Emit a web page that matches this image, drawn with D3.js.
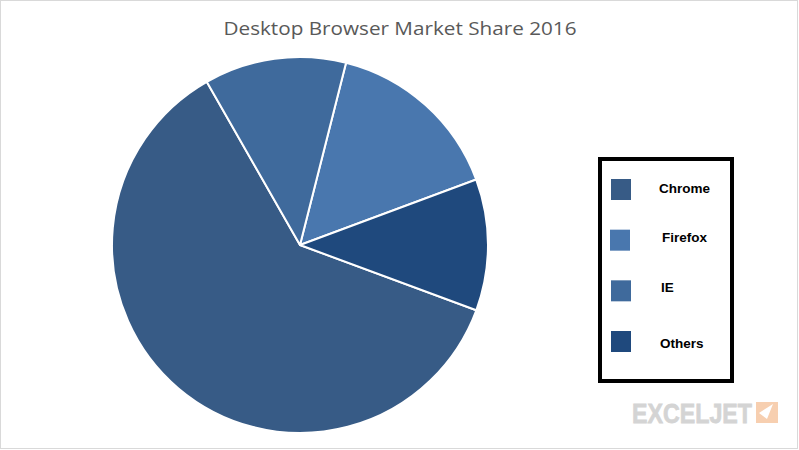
<!DOCTYPE html>
<html>
<head>
<meta charset="utf-8">
<script src="https://cdn.jsdelivr.net/npm/d3@7"></script>
<style>
  html, body { margin: 0; padding: 0; background: #fff; }
  svg { display: block; }
</style>
</head>
<body>
<svg id="chart" width="799" height="450"></svg>
<script>
// Data (legend order)
const categories = ["Chrome", "Firefox", "IE", "Others"];
const shares = [61.1, 15.4, 12.2, 11.3];
const colors = ["#375b86", "#4977ae", "#3f6a9c", "#1f497d"];
// order slices are drawn clockwise in the reference
const drawOrder = ["Chrome", "IE", "Firefox", "Others"];
const title = "Desktop Browser Market Share 2016";

const svg = d3.select("#chart");
const W = 799, H = 450;

// outer border
svg.append("rect")
  .attr("x", 0.5).attr("y", 0.5)
  .attr("width", W - 2).attr("height", H - 2)
  .attr("fill", "#fff").attr("stroke", "#d9d9d9").attr("stroke-width", 1);

// title
svg.append("text")
  .attr("x", 400).attr("y", 35)
  .attr("text-anchor", "middle")
  .attr("font-family", "'Open Sans', sans-serif")
  .attr("font-size", 18)
  .attr("fill", "#595959")
  .attr("textLength", 353)
  .attr("lengthAdjust", "spacingAndGlyphs")
  .text(title);

// pie
const data = categories.map((c, i) => ({ cat: c, value: shares[i], color: colors[i] }));
const cx = 300, cy = 245, r = 188;
const startDeg = 110.3;
const pie = d3.pie()
  .value(d => d.value)
  .sort((a, b) => drawOrder.indexOf(a.cat) - drawOrder.indexOf(b.cat))
  .startAngle(startDeg * Math.PI / 180)
  .endAngle((startDeg + 360) * Math.PI / 180);
const arc = d3.arc().innerRadius(0).outerRadius(r);

svg.append("g")
  .attr("transform", `translate(${cx},${cy})`)
  .selectAll("path")
  .data(pie(data))
  .join("path")
  .attr("d", arc)
  .attr("fill", d => d.data.color)
  .attr("stroke", "#fff")
  .attr("stroke-width", 2)
  .attr("stroke-linejoin", "round");

// legend
svg.append("rect")
  .attr("x", 600).attr("y", 159)
  .attr("width", 132).attr("height", 222)
  .attr("fill", "#fff").attr("stroke", "#000").attr("stroke-width", 4);

const legendY = d3.scalePoint().domain(categories).range([189.5, 341.5]);
const swatchX = [611, 610, 611, 611];
const labelX = [659, 662, 661, 660];
const labelY = [193, 242, 292, 348];
const lg = svg.append("g").selectAll("g").data(data).join("g");
lg.append("rect")
  .attr("x", (d, i) => swatchX[i]).attr("y", d => legendY(d.cat) - 10.5)
  .attr("width", 20).attr("height", 21)
  .attr("fill", d => d.color);
lg.append("text")
  .attr("x", (d, i) => labelX[i])
  .attr("y", (d, i) => labelY[i])
  .attr("font-family", "'Liberation Sans', Arial, sans-serif")
  .attr("font-weight", "bold")
  .attr("font-size", 13.5)
  .attr("fill", "#000")
  .text(d => d.cat);

// watermark
svg.append("text")
  .attr("x", 632).attr("y", 423)
  .attr("font-family", "'Liberation Sans', Arial, sans-serif")
  .attr("font-weight", "bold")
  .attr("font-size", 28)
  .attr("fill", "#d4d4d4")
  .attr("stroke", "#d4d4d4")
  .attr("stroke-width", 0.8)
  .attr("textLength", 120)
  .attr("lengthAdjust", "spacingAndGlyphs")
  .text("EXCELJET");
svg.append("rect")
  .attr("x", 756).attr("y", 402)
  .attr("width", 22).attr("height", 21)
  .attr("fill", "#f7cfb0");
svg.append("path")
  .attr("d", "M773,404 L759,413 L767,419 Z")
  .attr("fill", "#fff");
</script>
</body>
</html>
